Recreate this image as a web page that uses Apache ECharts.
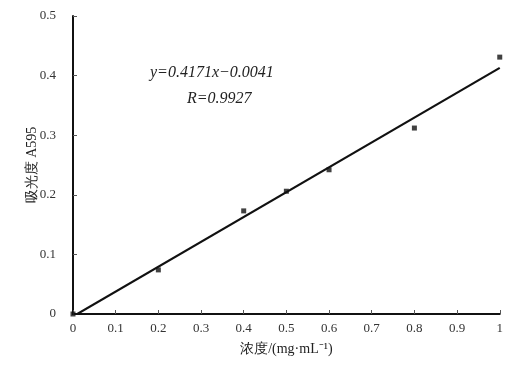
<!DOCTYPE html>
<html><head><meta charset="utf-8">
<script src="https://cdn.jsdelivr.net/npm/echarts@6/dist/echarts.min.js"></script>
<style>html,body{margin:0;padding:0;background:#fff}#c{width:506px;height:374px}</style>
</head><body><div id="c"></div>
<script>
const concentration = [0, 0.2, 0.4, 0.5, 0.6, 0.8, 1.0];
const absorbance = [0, 0.074, 0.173, 0.206, 0.242, 0.312, 0.431];
const slope = 0.4171, intercept = -0.0041;
const fitX = [0, 1];
const xTicks = ['0','0.1','0.2','0.3','0.4','0.5','0.6','0.7','0.8','0.9','1'];
const yTicks = ['0','0.1','0.2','0.3','0.4','0.5'];
const font = 'Liberation Serif';
const chart = echarts.init(document.getElementById('c'));
chart.setOption({
  animation:false,
  grid:{left:73,right:6,top:16,bottom:60},
  xAxis:{type:'value',min:0,max:1,interval:0.1,
    axisLine:{lineStyle:{color:'#111',width:2}},
    axisTick:{inside:true,length:4,lineStyle:{color:'#555'}},
    splitLine:{show:false},
    axisLabel:{color:'#333',fontFamily:font,fontSize:13,margin:8,
      formatter:v=>xTicks[Math.round(v*10)]},
    name:'浓度/(mg·mL⁻¹)',nameLocation:'middle',nameGap:28,nameMoveOverlap:false,
    nameTextStyle:{color:'#222',fontFamily:font,fontSize:14}},
  yAxis:{type:'value',min:0,max:0.5,interval:0.1,
    axisLine:{lineStyle:{color:'#111',width:2}},
    axisTick:{inside:true,length:4,lineStyle:{color:'#555'}},
    splitLine:{show:false},
    axisLabel:{color:'#333',fontFamily:font,fontSize:13,margin:17,
      formatter:v=>yTicks[Math.round(v*10)]},
    name:'吸光度 A595',nameLocation:'middle',nameGap:34,nameMoveOverlap:false,
    nameTextStyle:{color:'#222',fontFamily:font,fontSize:14}},
  series:[
    {type:'line',data:fitX.map(x=>[x,slope*x+intercept]),symbol:'none',
     lineStyle:{color:'#111',width:2.2},clip:true,z:2},
    {type:'scatter',data:concentration.map((x,i)=>[x,absorbance[i]]),symbol:'rect',symbolSize:5,
     itemStyle:{color:'#111'},z:3}
  ],
  graphic:[
    {type:'text',left:150,top:65,style:{text:'y=0.4171x−0.0041',font:'italic 16px "Liberation Serif"',fill:'#222'}},
    {type:'text',left:187,top:91,style:{text:'R=0.9927',font:'italic 16px "Liberation Serif"',fill:'#222'}}
  ]
});
</script></body></html>
